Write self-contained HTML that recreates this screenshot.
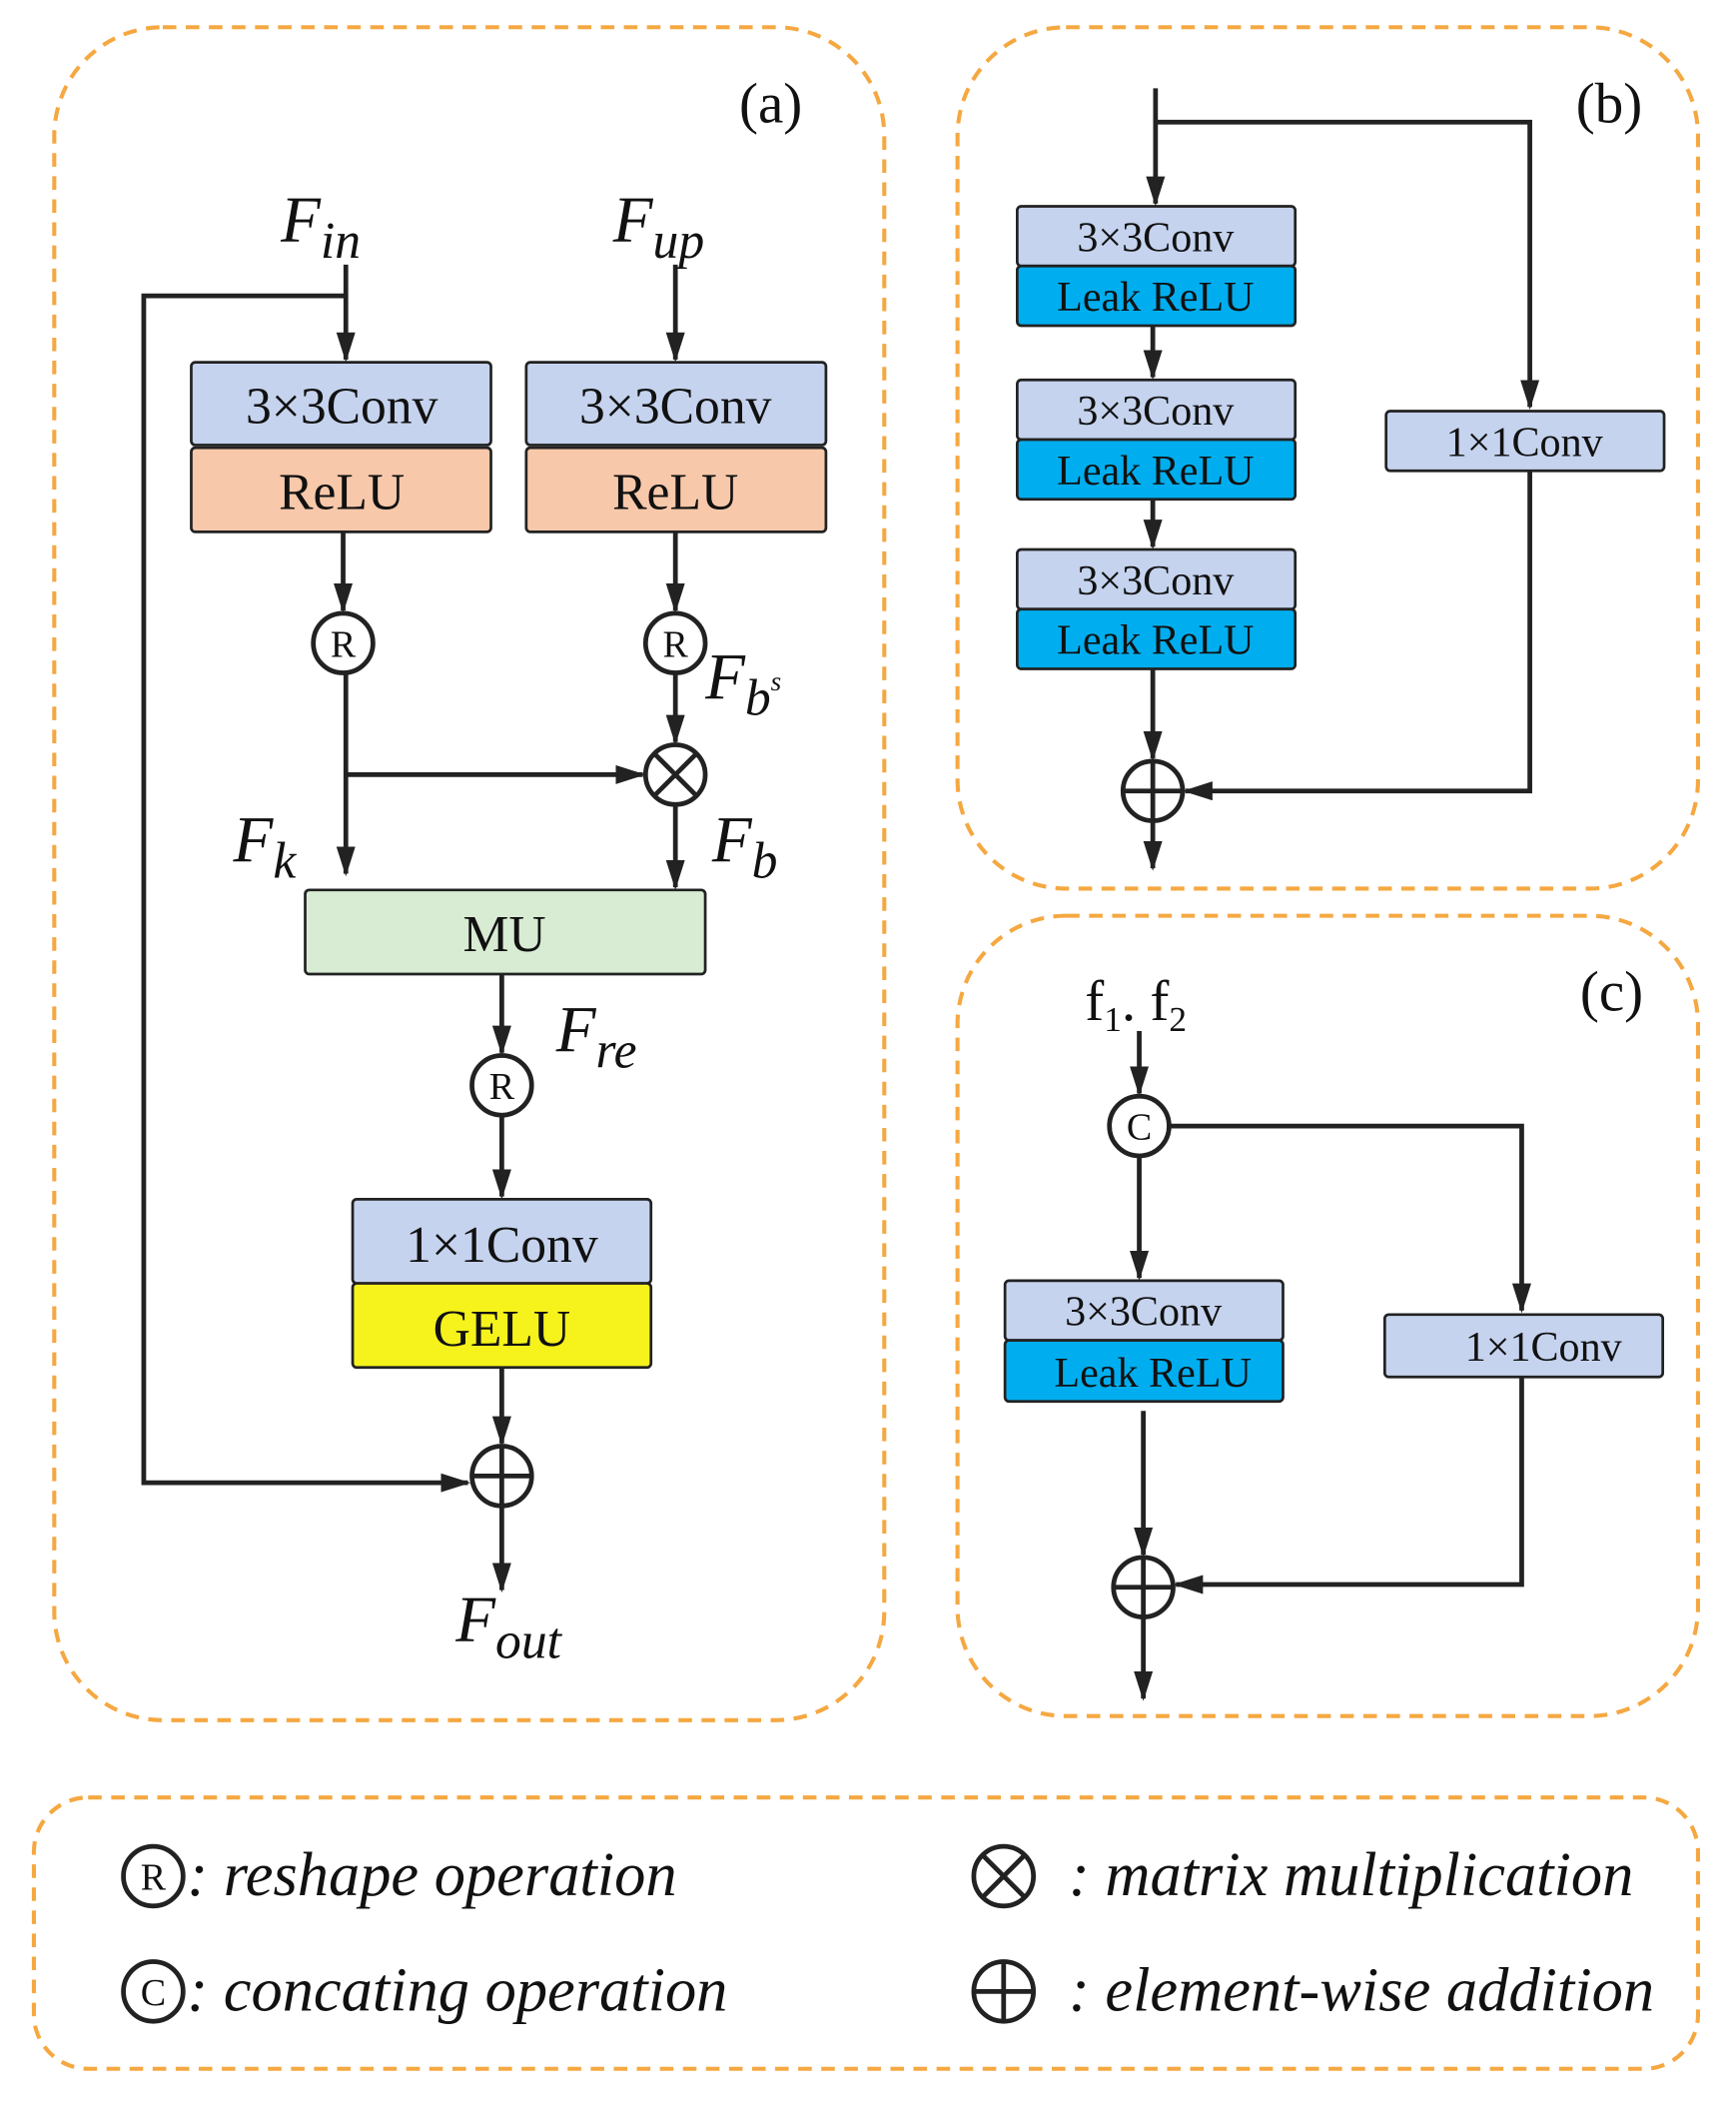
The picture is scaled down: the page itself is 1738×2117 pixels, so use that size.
<!DOCTYPE html>
<html><head><meta charset="utf-8"><style>html,body{margin:0;padding:0;background:#fff}svg{display:block}text{font-family:"Liberation Serif",serif}</style></head>
<body>
<svg width="1738" height="2117" viewBox="0 0 1280 1559" xmlns="http://www.w3.org/2000/svg">
<defs>
<marker id="a2" markerWidth="22" markerHeight="14" refX="20" refY="7" orient="auto" markerUnits="userSpaceOnUse" viewBox="0 0 22 14">
<path d="M0,0 L22,7 L0,14 z" fill="#222"/></marker>
</defs>
<g fill="none" stroke="#F5A841" stroke-width="3" stroke-dasharray="10,7">
<rect x="40" y="20" width="612" height="1248" rx="80"/>
<rect x="706" y="20" width="546" height="635" rx="80"/>
<rect x="706" y="675" width="546" height="590" rx="80"/>
<rect x="25" y="1325" width="1227" height="200" rx="40"/>
</g>
<g stroke="#222" stroke-width="3.5" fill="none" marker-end="url(#a2)">
<path d="M255,195 V265"/>
<path d="M255,218 H106 V1093 H345"/>
<path d="M498,195 V265"/>
<path d="M253,392 V450"/>
<path d="M498,392 V450"/>
<path d="M255,496 V644"/>
<path d="M255,571 H474"/>
<path d="M498,496 V547"/>
<path d="M498,593 V654"/>
<path d="M370,718 V776"/>
<path d="M370,822 V882"/>
<path d="M370,1008 V1064"/>
<path d="M370,1110 V1172"/>
<path d="M852,65 V150"/>
<path d="M852,90 H1128 V300"/>
<path d="M850,240 V278"/>
<path d="M850,368 V403"/>
<path d="M850,493 V559"/>
<path d="M1128,347 V583 H874"/>
<path d="M850,605 V640"/>
<path d="M840,760 V806"/>
<path d="M862,830 H1122 V966"/>
<path d="M840,852 V942"/>
<path d="M843,1040 V1146"/>
<path d="M1122,1015 V1168 H867"/>
<path d="M843,1192 V1252"/>
</g>
<g stroke="#222" stroke-width="2">
<rect x="141" y="267" width="221" height="61" rx="3" fill="#C5D3EE"/>
<rect x="141" y="330" width="221" height="62" rx="3" fill="#F7C8AA"/>
<rect x="388" y="267" width="221" height="61" rx="3" fill="#C5D3EE"/>
<rect x="388" y="330" width="221" height="62" rx="3" fill="#F7C8AA"/>
<rect x="225" y="656" width="295" height="62" rx="3" fill="#D8EBD3"/>
<rect x="260" y="884" width="220" height="62" rx="3" fill="#C5D3EE"/>
<rect x="260" y="946" width="220" height="62" rx="3" fill="#F5F21C"/>
<rect x="750" y="152" width="205" height="44" rx="3" fill="#C5D3EE"/>
<rect x="750" y="196" width="205" height="44" rx="3" fill="#00AEEF"/>
<rect x="750" y="280" width="205" height="44" rx="3" fill="#C5D3EE"/>
<rect x="750" y="324" width="205" height="44" rx="3" fill="#00AEEF"/>
<rect x="750" y="405" width="205" height="44" rx="3" fill="#C5D3EE"/>
<rect x="750" y="449" width="205" height="44" rx="3" fill="#00AEEF"/>
<rect x="1022" y="303" width="205" height="44" rx="3" fill="#C5D3EE"/>
<rect x="741" y="944" width="205" height="44" rx="3" fill="#C5D3EE"/>
<rect x="741" y="988" width="205" height="45" rx="3" fill="#00AEEF"/>
<rect x="1021" y="969" width="205" height="46" rx="3" fill="#C5D3EE"/>
</g>
<g font-size="38" text-anchor="middle" fill="#111">
<text x="252" y="312">3×3Conv</text><text x="252" y="375">ReLU</text>
<text x="498" y="312">3×3Conv</text><text x="498" y="375">ReLU</text>
<text x="372" y="701">MU</text>
<text x="370" y="930">1×1Conv</text><text x="370" y="992">GELU</text>
</g>
<g font-size="31" text-anchor="middle" fill="#111">
<text x="852" y="185">3×3Conv</text><text x="852" y="229">Leak ReLU</text>
<text x="852" y="313">3×3Conv</text><text x="852" y="357">Leak ReLU</text>
<text x="852" y="438">3×3Conv</text><text x="852" y="482">Leak ReLU</text>
<text x="1124" y="336">1×1Conv</text>
<text x="843" y="977">3×3Conv</text><text x="850" y="1022">Leak ReLU</text>
<text x="1138" y="1003">1×1Conv</text>
</g>
<g stroke="#222" stroke-width="3.5" fill="#fff">
<circle cx="253" cy="474" r="22"/><circle cx="498" cy="474" r="22"/>
<circle cx="370" cy="800" r="22"/><circle cx="840" cy="830" r="22"/>
<circle cx="498" cy="571" r="22"/><path d="M482,555 L514,587 M514,555 L482,587"/>
<circle cx="370" cy="1088" r="22"/><path d="M348,1088 H392 M370,1066 V1110"/>
<circle cx="850" cy="583" r="22"/><path d="M828,583 H872 M850,561 V605"/>
<circle cx="843" cy="1170" r="22"/><path d="M821,1170 H865 M843,1148 V1192"/>
<circle cx="113" cy="1383" r="22"/><circle cx="113" cy="1468" r="22"/>
<circle cx="740" cy="1383" r="22"/><path d="M724,1367 L756,1399 M756,1367 L724,1399"/>
<circle cx="740" cy="1468" r="22"/><path d="M718,1468 H762 M740,1446 V1490"/>
</g>
<g font-size="28" text-anchor="middle" fill="#111">
<text x="253" y="484">R</text><text x="498" y="484">R</text><text x="370" y="810">R</text>
<text x="840" y="840">C</text><text x="113" y="1393">R</text><text x="113" y="1478">C</text>
</g>
<g font-size="48" font-style="italic" fill="#111">
<text x="207" y="178">F<tspan font-size="38" dy="12">in</tspan></text>
<text x="452" y="178">F<tspan font-size="38" dy="12">up</tspan></text>
<text x="520" y="515">F<tspan font-size="38" dy="12">b</tspan><tspan font-size="20" dy="-18">s</tspan></text>
<text x="172" y="635">F<tspan font-size="38" dy="12">k</tspan></text>
<text x="525" y="635">F<tspan font-size="38" dy="12">b</tspan></text>
<text x="410" y="775">F<tspan font-size="38" dy="12">re</tspan></text>
<text x="336" y="1210">F<tspan font-size="38" dy="12">out</tspan></text>
</g>
<g font-size="42" fill="#111">
<text x="545" y="90">(a)</text><text x="1162" y="90">(b)</text><text x="1165" y="745">(c)</text>
<text x="800" y="752">f<tspan font-size="26" dy="8">1</tspan><tspan dy="-8">. f</tspan><tspan font-size="26" dy="8">2</tspan></text>
</g>
<g font-size="46" font-style="italic" fill="#111">
<text x="138" y="1397">: reshape operation</text>
<text x="138" y="1482">: concating operation</text>
<text x="788" y="1397">: matrix multiplication</text>
<text x="788" y="1482">: element-wise addition</text>
</g>
</svg>
</body></html>
